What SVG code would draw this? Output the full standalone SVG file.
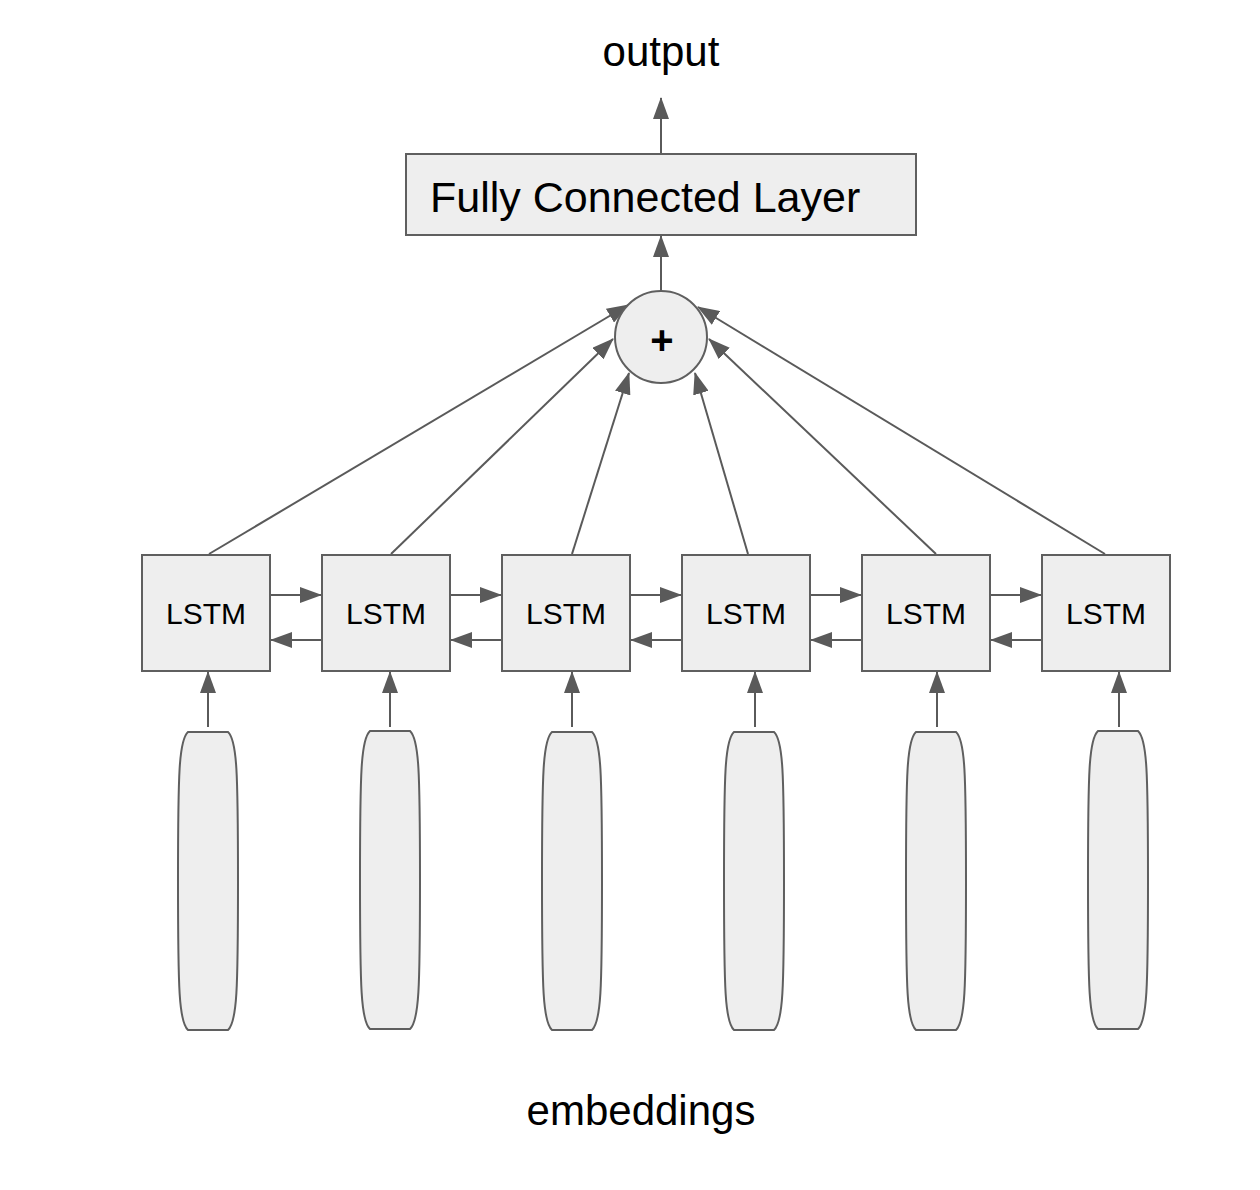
<svg xmlns="http://www.w3.org/2000/svg" width="1260" height="1190" viewBox="0 0 1260 1190">
<style>
.box{fill:#eeeeee;stroke:#5f5f5f;stroke-width:2}
.ln{stroke:#5a5a5a;stroke-width:2;fill:none;marker-end:url(#ah)}
.t{font-family:"Liberation Sans",Arial,sans-serif;fill:#000}
.lstm{font-size:30px;text-anchor:middle}
.big{font-size:42px;text-anchor:middle}
</style>
<defs>
<marker id="ah" markerUnits="userSpaceOnUse" markerWidth="22" markerHeight="16" refX="21" refY="8" orient="auto" viewBox="0 0 22 16">
<path d="M0,0 L22,8 L0,16 Z" fill="#5a5a5a"/>
</marker>
<path id="emb" d="M-20,0 H20 C29,8 30,40 30,149 C30,258 29,290 20,298 H-20 C-29,290 -30,258 -30,149 C-30,40 -29,8 -20,0 Z"/>
</defs>
<rect width="1260" height="1190" fill="#ffffff"/>

<g id="connectors">
<line class="ln" x1="661" y1="154" x2="661" y2="98"/>
<line class="ln" x1="661" y1="292" x2="661" y2="236"/>
<line class="ln" x1="209" y1="554" x2="628" y2="305"/>
<line class="ln" x1="391" y1="554" x2="613" y2="339"/>
<line class="ln" x1="572" y1="554" x2="629" y2="373"/>
<line class="ln" x1="748" y1="554" x2="695" y2="373"/>
<line class="ln" x1="936" y1="554" x2="709" y2="339"/>
<line class="ln" x1="1105" y1="554" x2="698" y2="307"/>
<line class="ln" x1="270" y1="595" x2="321" y2="595"/>
<line class="ln" x1="450" y1="595" x2="501" y2="595"/>
<line class="ln" x1="630" y1="595" x2="681" y2="595"/>
<line class="ln" x1="810" y1="595" x2="861" y2="595"/>
<line class="ln" x1="990" y1="595" x2="1041" y2="595"/>
<line class="ln" x1="322" y1="640" x2="271" y2="640"/>
<line class="ln" x1="502" y1="640" x2="451" y2="640"/>
<line class="ln" x1="682" y1="640" x2="631" y2="640"/>
<line class="ln" x1="862" y1="640" x2="811" y2="640"/>
<line class="ln" x1="1042" y1="640" x2="991" y2="640"/>
<line class="ln" x1="208" y1="727" x2="208" y2="672"/>
<line class="ln" x1="390" y1="727" x2="390" y2="672"/>
<line class="ln" x1="572" y1="727" x2="572" y2="672"/>
<line class="ln" x1="755" y1="727" x2="755" y2="672"/>
<line class="ln" x1="937" y1="727" x2="937" y2="672"/>
<line class="ln" x1="1119" y1="727" x2="1119" y2="672"/>
</g>

<g id="output"><text class="t big" x="661" y="66">output</text></g>

<g id="fc">
<rect class="box" x="406" y="154" width="510" height="81"/>
<text class="t" x="430" y="212" font-size="43">Fully Connected Layer</text>
</g>

<g id="sum">
<circle class="box" cx="661" cy="337" r="46"/>
<text class="t" x="662" y="354" font-size="40" font-weight="bold" text-anchor="middle">+</text>
</g>

<g id="lstm1"><rect class="box" x="142" y="555" width="128" height="116"/><text class="t lstm" x="206" y="624">LSTM</text></g>
<g id="lstm2"><rect class="box" x="322" y="555" width="128" height="116"/><text class="t lstm" x="386" y="624">LSTM</text></g>
<g id="lstm3"><rect class="box" x="502" y="555" width="128" height="116"/><text class="t lstm" x="566" y="624">LSTM</text></g>
<g id="lstm4"><rect class="box" x="682" y="555" width="128" height="116"/><text class="t lstm" x="746" y="624">LSTM</text></g>
<g id="lstm5"><rect class="box" x="862" y="555" width="128" height="116"/><text class="t lstm" x="926" y="624">LSTM</text></g>
<g id="lstm6"><rect class="box" x="1042" y="555" width="128" height="116"/><text class="t lstm" x="1106" y="624">LSTM</text></g>

<g id="emb1"><use href="#emb" class="box" x="208" y="732"/></g>
<g id="emb2"><use href="#emb" class="box" x="390" y="731"/></g>
<g id="emb3"><use href="#emb" class="box" x="572" y="732"/></g>
<g id="emb4"><use href="#emb" class="box" x="754" y="732"/></g>
<g id="emb5"><use href="#emb" class="box" x="936" y="732"/></g>
<g id="emb6"><use href="#emb" class="box" x="1118" y="731"/></g>

<g id="embeddings-label"><text class="t big" x="641" y="1125">embeddings</text></g>
</svg>
